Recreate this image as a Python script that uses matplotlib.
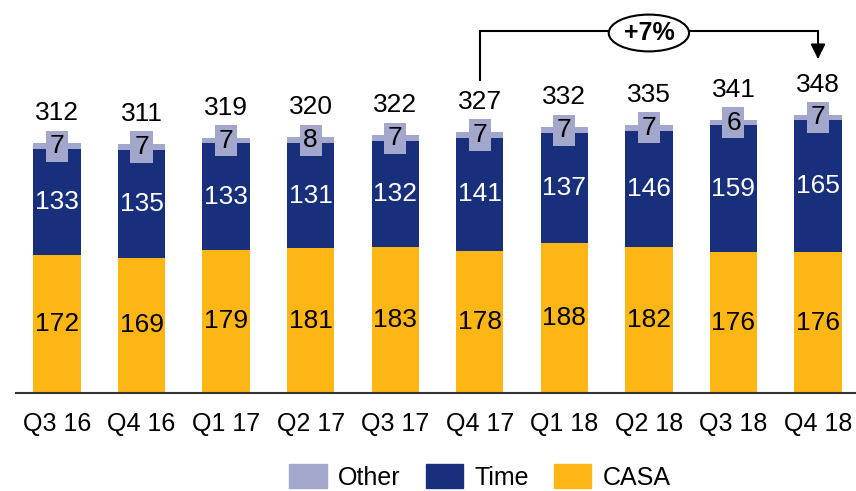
import matplotlib.pyplot as plt
from matplotlib.patches import Ellipse, Patch

plt.rcParams['font.family'] = ['Liberation Sans', 'DejaVu Sans']

# 数据
quarters = ['Q3 16', 'Q4 16', 'Q1 17', 'Q2 17', 'Q3 17', 'Q4 17', 'Q1 18', 'Q2 18', 'Q3 18', 'Q4 18']
casa = [172, 169, 179, 181, 183, 178, 188, 182, 176, 176]
time_dep = [133, 135, 133, 131, 132, 141, 137, 146, 159, 165]
other = [7, 7, 7, 8, 7, 7, 7, 7, 6, 7]
totals = [312, 311, 319, 320, 322, 327, 332, 335, 341, 348]
growth_label = '+7%'

c_casa = '#FDB614'
c_time = '#18307B'
c_other = '#A2A7CB'

fig = plt.figure(figsize=(8.56, 4.91), dpi=100)
ax = fig.add_axes([16 / 856, 98 / 491, 842 / 856, 393 / 491])

x = list(range(len(quarters)))
w = 0.56
bottom_time = casa
bottom_other = [c + t for c, t in zip(casa, time_dep)]

ax.bar(x, casa, w, color=c_casa)
ax.bar(x, time_dep, w, bottom=bottom_time, color=c_time)
ax.bar(x, other, w, bottom=bottom_other, color=c_other)

fs = 19
for i in x:
    ax.text(i, casa[i] / 2, str(casa[i]), ha='center', va='center', fontsize=fs, color='black')
    ax.text(i, casa[i] + time_dep[i] / 2, str(time_dep[i]), ha='center', va='center', fontsize=fs, color='white')
    ax.text(i, bottom_other[i] + other[i] / 2, str(other[i]), ha='center', va='center', fontsize=fs,
            color='black', bbox=dict(boxstyle='square,pad=0.14', fc=c_other, ec='none'))
    ax.annotate(str(totals[i]), (i, bottom_other[i] + other[i]), xytext=(0, 13), textcoords='offset points',
                ha='center', va='bottom', fontsize=fs)

# 增长箭头 (Q4 17 -> Q4 18)
y_top = 452
ax.plot([5, 5, 9, 9], [391, y_top, y_top, 420], color='black', lw=1.5, solid_joinstyle='miter')
ax.annotate('', xy=(9, 414), xytext=(9, 425),
            arrowprops=dict(arrowstyle='-|>', color='black', lw=1.5, mutation_scale=22))
ax.add_patch(Ellipse((7.0, y_top - 2), 0.95, 46, fc='white', ec='black', lw=1.5, zorder=3))
ax.text(7.0, y_top - 2, growth_label, ha='center', va='center', fontsize=18, fontweight='bold', zorder=4)

ax.set_xlim(-0.485, 9.473)
ax.set_ylim(0, 491.25)
ax.set_xticks(x)
ax.set_xticklabels(quarters, fontsize=18)
ax.tick_params(axis='x', length=0, pad=14)
ax.set_yticks([])
for s in ['top', 'left', 'right']:
    ax.spines[s].set_visible(False)
ax.spines['bottom'].set_linewidth(1.5)
ax.spines['bottom'].set_color('#333333')

handles = [Patch(color=c_other, label='Other'), Patch(color=c_time, label='Time'), Patch(color=c_casa, label='CASA')]
fig.legend(handles=handles, loc='center', bbox_to_anchor=(480 / 856, 1 - 477 / 491), ncol=3, frameon=False,
           fontsize=18, handlelength=1.5, handleheight=1.05, handletextpad=0.45, columnspacing=1.0)

fig.savefig('out.png', dpi=100)
